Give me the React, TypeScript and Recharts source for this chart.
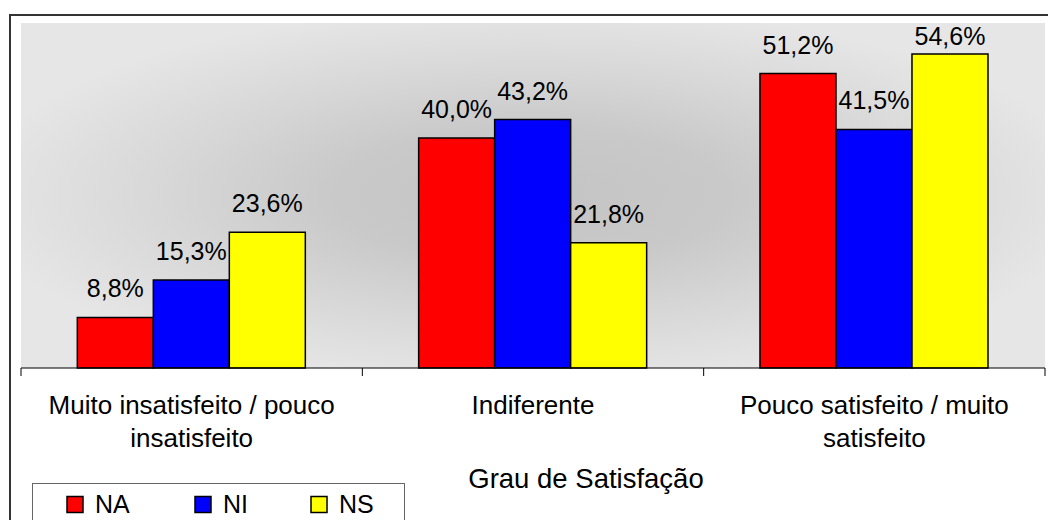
import React from "react";
import { Bar, BarChart, LabelList, XAxis, YAxis } from "recharts";

const CATEGORIES = [
  "Muito insatisfeito / pouco insatisfeito",
  "Indiferente",
  "Pouco satisfeito / muito satisfeito",
];
const NA = [8.8, 40.0, 51.2];
const NI = [15.3, 43.2, 41.5];
const NS = [23.6, 21.8, 54.6];
const SERIES = [
  { key: "NA", values: NA, color: "#ff0000" },
  { key: "NI", values: NI, color: "#0000ff" },
  { key: "NS", values: NS, color: "#ffff00" },
];
const X_TITLE = "Grau de Satisfação";

const W = 1048;
const H = 520;
const FONT = "'Liberation Sans', Arial, sans-serif";
const MARGIN = { top: 23, right: 3, bottom: 52, left: 21 };
const X_AXIS_H = 100;
const BAND = (W - MARGIN.left - MARGIN.right) / CATEGORIES.length;

const data = CATEGORIES.map((name, i) => {
  const row: Record<string, string | number> = { name };
  SERIES.forEach((s) => (row[s.key] = s.values[i]));
  return row;
});

const fmt = (v: number) => v.toFixed(1).replace(".", ",") + "%";

// simple greedy wrap by character count
function wrap(label: string, max = 26) {
  const lines: string[] = [];
  let cur = "";
  label.split(" ").forEach((w) => {
    const next = cur ? cur + " " + w : w;
    if (next.length > max && cur) {
      lines.push(cur);
      cur = w;
    } else {
      cur = next;
    }
  });
  if (cur) lines.push(cur);
  return lines;
}

function CategoryTick(props: any) {
  const { x, y, payload, index } = props;
  const axisY = y - 8;
  const lines = wrap(String(payload.value));
  return (
    <g>
      <line x1={x - BAND / 2} x2={x - BAND / 2} y1={axisY} y2={axisY + 8} stroke="#000" />
      {index === CATEGORIES.length - 1 && (
        <line x1={x + BAND / 2} x2={x + BAND / 2} y1={axisY} y2={axisY + 8} stroke="#000" />
      )}
      <text textAnchor="middle" fontSize={26} fontFamily={FONT} fill="#000">
        {lines.map((l, i) => (
          <tspan key={i} x={x} y={y + 38 + i * 33}>
            {l}
          </tspan>
        ))}
      </text>
    </g>
  );
}

function ValueLabel(props: any) {
  const { x, y, width, value } = props;
  return (
    <text
      x={x + width / 2}
      y={Math.max(y - 20, MARGIN.top + 22)}
      textAnchor="middle"
      fontSize={25}
      fontFamily={FONT}
      fill="#000"
    >
      {fmt(value)}
    </text>
  );
}

export default function App() {
  return (
    <div style={{ position: "absolute", left: 0, top: 0, width: W, height: H, background: "#fff", overflow: "hidden" }}>
      <BarChart
        width={W}
        height={H}
        data={data}
        margin={MARGIN}
        barCategoryGap="16.5%"
        barGap={0}
      >
        <defs>
          <radialGradient id="plotBg" cx="50%" cy="50%" r="55%">
            <stop offset="0" stopColor="#c4c4c4" />
            <stop offset="0.35" stopColor="#c9c9c9" />
            <stop offset="0.65" stopColor="#d7d7d7" />
            <stop offset="1" stopColor="#e6e6e6" />
          </radialGradient>
        </defs>
        <rect
          x={MARGIN.left}
          y={MARGIN.top}
          width={W - MARGIN.left - MARGIN.right}
          height={H - MARGIN.top - MARGIN.bottom - X_AXIS_H}
          fill="url(#plotBg)"
        />
        <XAxis
          dataKey="name"
          height={X_AXIS_H}
          tickLine={false}
          tickSize={6}
          tickMargin={2}
          axisLine={{ stroke: "#000", strokeWidth: 1 }}
          tick={<CategoryTick />}
          interval={0}
        />
        <YAxis hide domain={[0, 60]} />
        {SERIES.map((s) => (
          <Bar
            key={s.key}
            dataKey={s.key}
            fill={s.color}
            stroke="#000"
            strokeWidth={1.5}
            isAnimationActive={false}
          >
            <LabelList dataKey={s.key} content={<ValueLabel />} />
          </Bar>
        ))}
      </BarChart>
      <svg
        width={W}
        height={H}
        style={{ position: "absolute", left: 0, top: 0, pointerEvents: "none" }}
      >
        <path d={`M10 ${H + 5} V15 H${W + 5}`} fill="none" stroke="#333" strokeWidth={2} />
        <text x={586} y={488} textAnchor="middle" fontSize={27.5} fontFamily={FONT} fill="#000">
          {X_TITLE}
        </text>
        <rect x={32.5} y={483.5} width={372} height={60} fill="#fff" stroke="#666" strokeWidth={1} />
        {SERIES.map((s, i) => {
          const sx = [67, 195, 311][i];
          return (
            <g key={s.key}>
              <rect x={sx} y={496.5} width={16} height={16} fill={s.color} stroke="#000" strokeWidth={1.5} />
              <text x={sx + 28} y={513} fontSize={25} fontFamily={FONT} fill="#000">
                {s.key}
              </text>
            </g>
          );
        })}
      </svg>
    </div>
  );
}
